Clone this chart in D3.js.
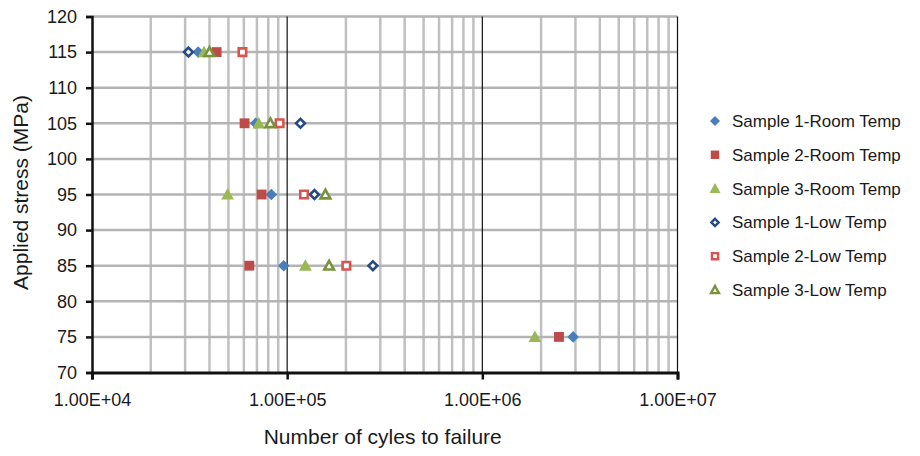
<!DOCTYPE html>
<html>
<head>
<meta charset="utf-8">
<script src="https://cdn.jsdelivr.net/npm/d3@7"></script>
<style>
  body { margin: 0; background: #fff; }
  text { font-family: "Liberation Sans", Arial, sans-serif; fill: #1a1a1a; }
</style>
</head>
<body>
<div id="chart"></div>
<script>
// Data
const stressRoom = [115, 105, 95, 85, 75];
const stressLow = [115, 105, 95, 85];
const s1Room = [35000, 69000, 83000, 96000, 2920000];
const s2Room = [43500, 60500, 74000, 64000, 2470000];
const s3Room = [37500, 71500, 49500, 124000, 1860000];
const s1Low = [31200, 117000, 138000, 275000];
const s2Low = [59000, 91500, 122000, 201000];
const s3Low = [40000, 82000, 157000, 164000];
const yTicks = [70, 75, 80, 85, 90, 95, 100, 105, 110, 115, 120];
const xTicks = [1e4, 1e5, 1e6, 1e7];

const series = [
  { name: "Sample 1-Room Temp", x: s1Room, y: stressRoom, shape: "diamond", fill: "#4a7ebb", stroke: "none" },
  { name: "Sample 2-Room Temp", x: s2Room, y: stressRoom, shape: "square", fill: "#be4b48", stroke: "none" },
  { name: "Sample 3-Room Temp", x: s3Room, y: stressRoom, shape: "triangle", fill: "#98b954", stroke: "none" },
  { name: "Sample 1-Low Temp", x: s1Low, y: stressLow, shape: "diamond", fill: "#fff", stroke: "#254a84" },
  { name: "Sample 2-Low Temp", x: s2Low, y: stressLow, shape: "square", fill: "#fff", stroke: "#d9534f" },
  { name: "Sample 3-Low Temp", x: s3Low, y: stressLow, shape: "triangle", fill: "#fff", stroke: "#77933c" }
];

const W = 920, H = 456;
const margin = { top: 16.5, right: 242.5, bottom: 83.5, left: 92 };
const width = W - margin.left - margin.right;
const height = H - margin.top - margin.bottom;

const svg = d3.select("#chart").append("svg")
  .attr("width", W)
  .attr("height", H);

const g = svg.append("g")
  .attr("transform", "translate(" + margin.left + "," + margin.top + ")");

const x = d3.scaleLog().domain([1e4, 1e7]).range([0, width]);
const y = d3.scaleLinear().domain([70, 120]).range([height, 0]);

// minor vertical gridlines
const minor = [];
[1e4, 1e5, 1e6].forEach(d => { for (let k = 2; k <= 9; k++) minor.push(d * k); });
g.selectAll(".vminor").data(minor).enter().append("line")
  .attr("x1", d => x(d)).attr("x2", d => x(d))
  .attr("y1", 0).attr("y2", height)
  .attr("stroke", "#c0c0c0").attr("stroke-width", 2.5);

// horizontal gridlines
g.selectAll(".hgrid").data(yTicks.filter(d => d > 70)).enter().append("line")
  .attr("x1", 0).attr("x2", width)
  .attr("y1", d => y(d)).attr("y2", d => y(d))
  .attr("stroke", "#b4b4b4").attr("stroke-width", 2.5);

// major vertical gridlines
g.selectAll(".vmajor").data(xTicks.slice(1)).enter().append("line")
  .attr("x1", d => x(d)).attr("x2", d => x(d))
  .attr("y1", 0).attr("y2", height)
  .attr("stroke", "#111").attr("stroke-width", 1.2);

// axes
const xAxis = g.append("g")
  .attr("transform", "translate(0," + height + ")")
  .call(d3.axisBottom(x).tickValues(xTicks).tickSize(7).tickPadding(14)
    .tickFormat(d => d.toExponential(2).toUpperCase().replace("E+", "E+0")));
xAxis.select(".domain").attr("stroke", "#111").attr("stroke-width", 3);
xAxis.selectAll(".tick line").attr("stroke", "#111").attr("stroke-width", 2.5);
xAxis.selectAll("text").attr("font-size", 18).attr("fill", "#1a1a1a");

const yAxis = g.append("g")
  .call(d3.axisLeft(y).tickValues(yTicks).tickSize(6).tickPadding(9));
yAxis.select(".domain").attr("stroke", "#111").attr("stroke-width", 2.5);
yAxis.selectAll(".tick line").attr("stroke", "#111").attr("stroke-width", 2.5);
yAxis.selectAll("text").attr("font-size", 18).attr("fill", "#1a1a1a");

// marker paths
function marker(shape, r) {
  if (shape === "diamond") return `M0,${-r}L${r},0L0,${r}L${-r},0Z`;
  if (shape === "square") { const s = r * 0.85; return `M${-s},${-s}H${s}V${s}H${-s}Z`; }
  const t = r * 1.1;
  return `M0,${-t}L${t},${t * 0.8}L${-t},${t * 0.8}Z`;
}

series.forEach(s => {
  const pts = s.x.map((v, i) => ({ x: v, y: s.y[i] }));
  const open = s.stroke !== "none";
  g.selectAll(null).data(pts).enter().append("path")
    .attr("transform", d => "translate(" + x(d.x) + "," + y(d.y) + ")")
    .attr("d", marker(s.shape, open ? 4.4 : 5.8))
    .attr("fill", s.fill)
    .attr("stroke", open ? s.stroke : "none")
    .attr("stroke-width", 2.6);
});

// axis titles
svg.append("text")
  .attr("x", margin.left + width / 2 - 2)
  .attr("y", 444)
  .attr("text-anchor", "middle")
  .attr("font-size", 21)
  .text("Number of cyles to failure");

svg.append("text")
  .attr("transform", "rotate(-90)")
  .attr("x", -(margin.top + height / 2) + 2)
  .attr("y", 28)
  .attr("text-anchor", "middle")
  .attr("font-size", 21)
  .text("Applied stress (MPa)");

// legend
const legend = svg.append("g").attr("transform", "translate(715,121)");
series.forEach((s, i) => {
  const open = s.stroke !== "none";
  const row = legend.append("g").attr("transform", "translate(0," + i * 33.8 + ")");
  row.append("path")
    .attr("d", marker(s.shape, open ? 3.6 : 5))
    .attr("fill", s.fill)
    .attr("stroke", open ? s.stroke : "none")
    .attr("stroke-width", 2.4);
  row.append("text")
    .attr("x", 17)
    .attr("dy", "0.35em")
    .attr("font-size", 17)
    .text(s.name);
});
</script>
</body>
</html>
